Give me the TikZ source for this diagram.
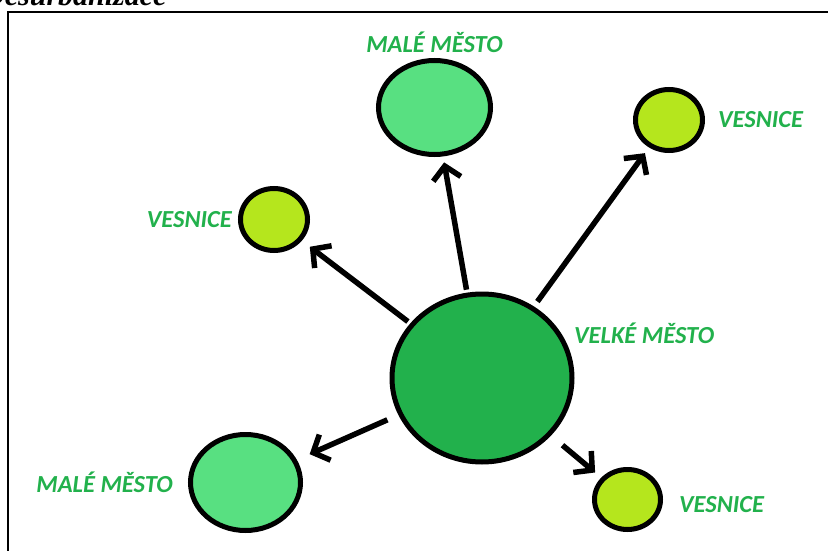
\documentclass[tikz,border=0pt]{standalone}
\usepackage{fontspec}
\newfontfamily\popisfont{Carlito}
\newfontfamily\titulekfont{Liberation Serif}
\usetikzlibrary{arrows.meta,positioning,shapes.geometric}
\definecolor{velkazelena}{HTML}{22B14C}
\definecolor{malazelena}{HTML}{58E081}
\definecolor{vesnicezelena}{HTML}{B5E61D}
\definecolor{textzelena}{HTML}{22B14C}
\tikzset{
    >={Straight Barb[length=13pt,width=28pt]},
    mesto/.style={
           ellipse,
           draw=black, line width=5pt,
           inner sep=0pt},
    pil/.style={
           ->,
           line width=5.5pt},
    popis/.style={
           text=textzelena,
           font=\popisfont\bfseries\itshape\fontsize{24.5}{27}\selectfont,
           inner sep=0pt}
}
\begin{document}
\begin{tikzpicture}[x=1pt, y=-1pt, node distance=6pt]
        \useasboundingbox (0,0) rectangle (828,551);
        \node[anchor=base west, inner sep=0pt,
              font=\titulekfont\bfseries\itshape\fontsize{30}{30}\selectfont] (titulek) at (-17,6) {Desurbanizace};
        \draw[line width=1.5pt] (8,12) rectangle (850,580);
        % mesta a vesnice
        \node[mesto, fill=velkazelena, minimum width=180pt, minimum height=168pt] (velke) at (482,378) {};
        \node[mesto, fill=malazelena, minimum width=112pt, minimum height=94pt] (male1) at (434.5,107.5) {};
        \node[mesto, fill=malazelena, minimum width=110pt, minimum height=96pt] (male2) at (245.5,482.5) {};
        \node[mesto, fill=vesnicezelena, minimum width=67pt, minimum height=61pt] (ves1) at (669,120) {};
        \node[mesto, fill=vesnicezelena, minimum width=67pt, minimum height=62pt] (ves2) at (274,219.5) {};
        \node[mesto, fill=vesnicezelena, minimum width=66pt, minimum height=60pt] (ves3) at (627.5,499.5) {};
        % popisky
        \node[popis, above=5pt of male1] (lmale1) {MALÉ MĚSTO};
        \node[popis, left=15pt of male2] (lmale2) {MALÉ MĚSTO};
        \node[popis, right=13pt of ves1] (lves1) {VESNICE};
        \node[popis, left=6pt of ves2] (lves2) {VESNICE};
        \node[popis, right=16pt of ves3, yshift=-5.5pt] (lves3) {VESNICE};
        \node[popis, anchor=base west] (lvelke) at (574,343) {VELKÉ MĚSTO};
        % sipky
        \draw[pil, shorten <=3pt, shorten >=6pt] (velke) -- (male1);
        \draw[pil, shorten <=6pt, shorten >=7pt] (velke) -- (ves1);
        \draw[pil, shorten <=3pt, shorten >=10pt] (velke) -- (ves2);
        \draw[pil, shorten <=12pt, shorten >=14pt] (velke) -- (male2);
        \draw[pil, shorten <=15pt, shorten >=8pt] (velke) -- (ves3);
\end{tikzpicture}
\end{document}
